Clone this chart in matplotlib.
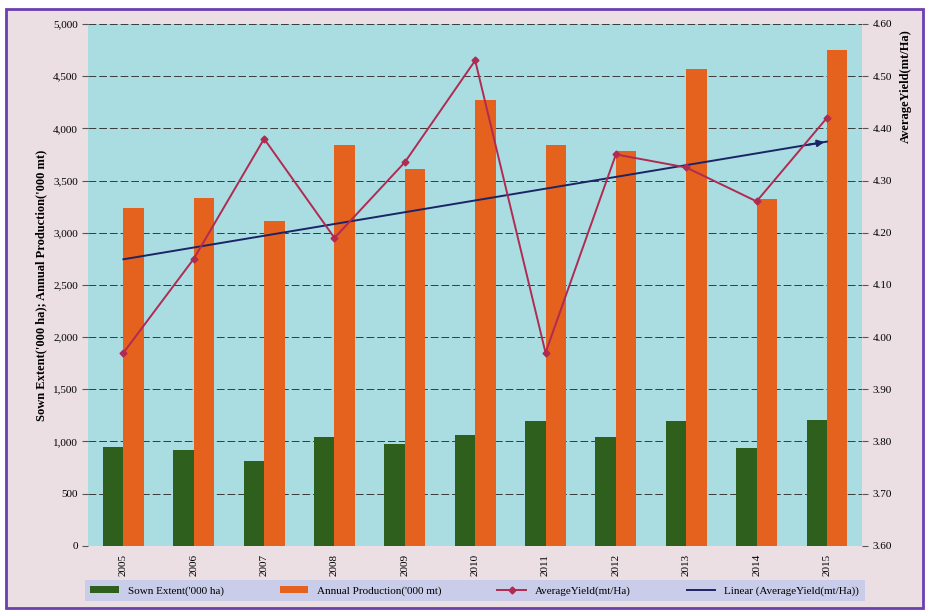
import numpy as np
import matplotlib.pyplot as plt
from matplotlib.patches import Rectangle
from matplotlib.ticker import FuncFormatter

years = ['2005', '2006', '2007', '2008', '2009', '2010', '2011', '2012', '2013', '2014', '2015']
sown_extent = [945, 920, 810, 1040, 975, 1060, 1195, 1040, 1195, 935, 1205]          # '000 ha
annual_production = [3240, 3335, 3115, 3845, 3615, 4275, 3845, 3785, 4570, 3325, 4750]  # '000 mt
avg_yield = [3.97, 4.15, 4.38, 4.19, 4.335, 4.53, 3.97, 4.35, 4.325, 4.26, 4.42]      # mt/Ha

plt.rcParams['font.family'] = ['Liberation Serif', 'DejaVu Serif']

fig = plt.figure(figsize=(9.29, 6.14), dpi=100)
fig.patch.set_facecolor('white')
# page frame
fig.patches.append(Rectangle((0.006, 0.01), 0.988, 0.975, transform=fig.transFigure,
                             facecolor='#ecdfe3', edgecolor='#6a3fb0', lw=2, zorder=-10))

ax = fig.add_axes([0.095, 0.111, 0.833, 0.85])
ax.set_facecolor('#a9dde2')
x = np.arange(len(years))
w = 0.29

ax.bar(x - w / 2, sown_extent, w, color='#2f5f1c', label="Sown Extent('000 ha)", zorder=3)
ax.bar(x + w / 2, annual_production, w, color='#e5611e', label="Annual Production('000 mt)", zorder=3)

ax.set_xlim(-0.5, len(years) - 0.5)
ax.set_ylim(0, 5000)
ax.set_yticks(np.arange(0, 5001, 500))
ax.yaxis.set_major_formatter(FuncFormatter(lambda v, p: f'{v:,.0f}'))
ax.set_xticks(x)
ax.set_xticklabels(years, rotation=90, fontsize=8)
ax.tick_params(axis='y', labelsize=8, direction='out', length=4, color='#555555')
ax.tick_params(axis='x', length=0, pad=6)
ax.grid(axis='y', color='#3a3a3a', lw=0.7, ls=(0, (8, 3)), zorder=1)
for s in ax.spines.values():
    s.set_visible(False)
ax.set_ylabel("Sown Extent('000 ha); Annual Production('000 mt)", fontsize=9, fontweight='bold')

ax2 = ax.twinx()
ax2.set_ylim(3.60, 4.60)
ax2.set_yticks(np.arange(3.60, 4.601, 0.10))
ax2.yaxis.set_major_formatter(FuncFormatter(lambda v, p: f'{v:.2f}'))
ax2.tick_params(axis='y', labelsize=8, direction='out', length=4, color='#555555')
for s in ax2.spines.values():
    s.set_visible(False)
ax2.plot(x, avg_yield, color='#b02a52', lw=1.4, marker='D', ms=3.5,
         label='AverageYield(mt/Ha)', zorder=5)

# linear trend of the yield series
k, b = np.polyfit(x, avg_yield, 1)
trend = k * x + b
ax2.plot(x, trend, color='#1c2466', lw=1.4, label='Linear (AverageYield(mt/Ha))', zorder=4)
ax2.annotate('', xy=(x[-1], trend[-1]), xytext=(x[-1] - 0.3, trend[-1] - 0.3 * k),
             arrowprops=dict(arrowstyle='-|>', color='#1c2466', lw=1.4, mutation_scale=10))
ax2.text(1.056, 0.99, 'AverageYield(mt/Ha)', transform=ax.transAxes, rotation=90,
         ha='center', va='top', fontsize=9, fontweight='bold')

h1, l1 = ax.get_legend_handles_labels()
h2, l2 = ax2.get_legend_handles_labels()
leg = fig.legend(h1 + h2, l1 + l2, loc='center', bbox_to_anchor=(0.511, 0.038), ncol=4,
                 fontsize=8, frameon=True, fancybox=False, borderpad=0.5,
                 columnspacing=5.0, handlelength=2.6, borderaxespad=0)
leg.get_frame().set_facecolor('#c9cde9')
leg.get_frame().set_edgecolor('none')
leg.get_frame().set_alpha(1)

fig.savefig('out.png', dpi=100, facecolor=fig.get_facecolor())
